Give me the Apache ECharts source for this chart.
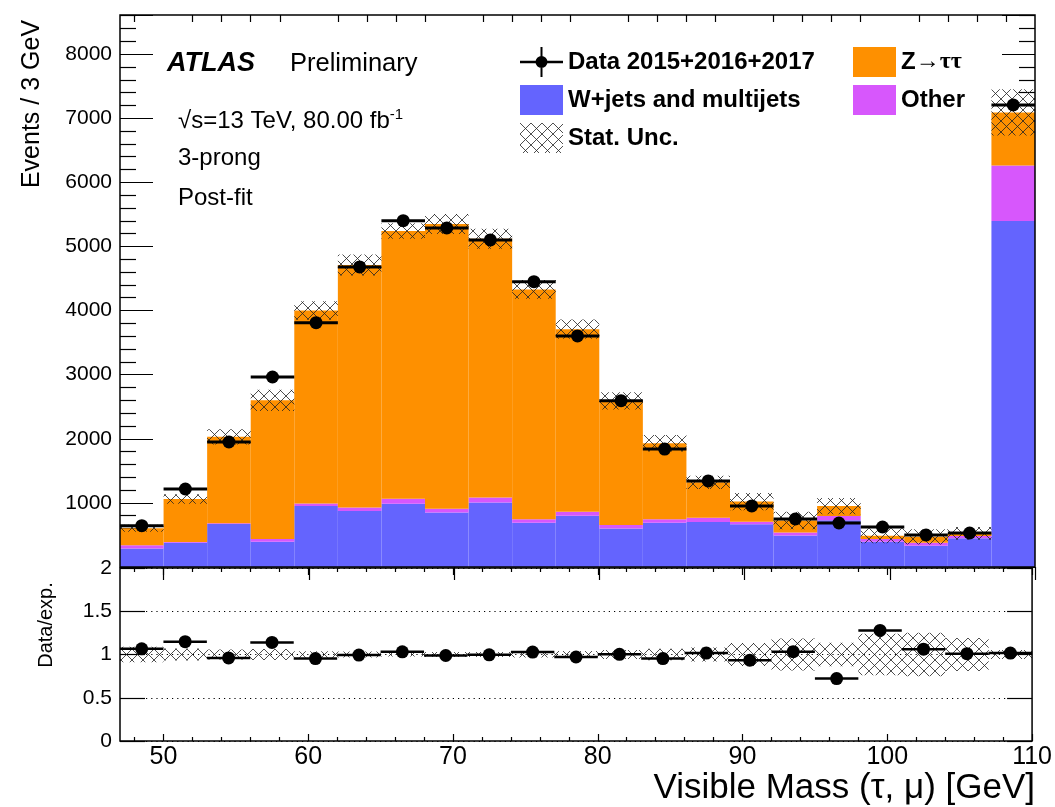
<!DOCTYPE html>
<html><head><meta charset="utf-8">
<script src="https://cdn.jsdelivr.net/npm/echarts@6/dist/echarts.min.js"></script>
<style>html,body{margin:0;padding:0;background:#fff}#c{width:1055px;height:807px}</style>
</head><body><div id="c"></div>
<script>
// ---- data ----
const binEdges = [47,50,53,56,59,62,65,68,71,74,77,80,83,86,89,92,95,98,101,104,107,110];
const dataEvents     = [645,1217,1950,2964,3811,4680,5402,5289,5101,4451,3604,2594,1840,1342,952,749,686,624,499,530,7207];
const wJetsMultijets = [290,378,671,395,950,875,985,850,1005,690,800,600,690,700,665,490,730,395,330,450,5398];
const otherBkg       = [48,12,10,40,40,55,80,60,80,55,60,55,55,70,40,50,65,40,50,35,863];
const zTauTau        = [267,670,1349,2165,3010,3780,4175,4440,4035,3585,2850,1935,1185,550,315,185,155,53,90,40,829];
const statUnc        = [55,75,120,165,145,165,120,155,155,145,150,135,130,105,135,135,128,117,118,100,360];
const xMajorTicks = [50,60,70,80,90,100,110];
const xMinorTicks = [48,52,54,56,58,62,64,66,68,72,74,76,78,82,84,86,88,92,94,96,98,102,104,106,108];
const yMainLabels = [1000,2000,3000,4000,5000,6000,7000,8000];

const C_W = '#6464fe', C_O = '#d757fc', C_Z = '#fe9000';
const FONT = 'Liberation Sans';

// hatch pattern (cross hatch)
function makeHatch(){
  const s = 11;
  const c = document.createElement('canvas'); c.width = s; c.height = s;
  const g = c.getContext('2d'); g.strokeStyle = '#222'; g.lineWidth = 0.8;
  g.beginPath(); g.moveTo(0,0); g.lineTo(s,s); g.moveTo(s,0); g.lineTo(0,s); g.stroke();
  return c;
}
const hatch = {image: makeHatch(), repeat: 'repeat'};

// ---- derived series ----
const stackW=[], stackO=[], stackZ=[], hatchMain=[], dataPts=[], ratioPts=[], ratioBand=[];
for (let i=0;i<dataEvents.length;i++){
  const lo=binEdges[i], hi=binEdges[i+1];
  const w=wJetsMultijets[i], o=otherBkg[i], z=zTauTau[i], tot=w+o+z;
  stackW.push([lo,hi,0,w]);
  stackO.push([lo,hi,w,w+o]);
  stackZ.push([lo,hi,w+o,tot]);
  hatchMain.push([lo,hi,tot-statUnc[i],tot+statUnc[i]]);
  dataPts.push([lo,hi,dataEvents[i]]);
  ratioPts.push([lo,hi,dataEvents[i]/tot]);
  ratioBand.push([lo,hi,1-statUnc[i]/tot,1+statUnc[i]/tot]);
}

function rectRender(fill){
  return function(params, api){
    const p1 = api.coord([api.value(0), api.value(3)]);
    const p2 = api.coord([api.value(1), api.value(2)]);
    return {type:'rect', shape:{x:p1[0], y:p1[1], width:p2[0]-p1[0], height:p2[1]-p1[1]},
            style:{fill: fill, stroke: null}};
  };
}
function pointRender(r, lw){
  return function(params, api){
    const lo=api.value(0), hi=api.value(1), y=api.value(2);
    const a=api.coord([lo,y]), b=api.coord([hi,y]), m=api.coord([(lo+hi)/2,y]);
    return {type:'group', children:[
      {type:'line', shape:{x1:a[0],y1:a[1],x2:b[0],y2:b[1]}, style:{stroke:'#000', lineWidth:lw}},
      {type:'circle', shape:{cx:m[0],cy:m[1],r:r}, style:{fill:'#000'}}
    ]};
  };
}

function xAx(grid, pos, ticks, len, extra){
  return Object.assign({type:'value', gridIndex:grid, position:pos, min:47, max:110,
    axisLine:{show:false}, splitLine:{show:false},
    axisTick:{show:true, inside:true, length:len, customValues:ticks, lineStyle:{color:'#000', width:1.2}},
    axisLabel:{show:false}}, extra||{});
}
const plain = function(v){ return String(v); };

const gridBase = {left:120, width:915, show:true, borderColor:'#000', borderWidth:1.5, backgroundColor:'transparent', z:10};

const dataIcon = 'path://M0,13.75L43,13.75L43,16.25L0,16.25Z M20.5,0L22.5,0L22.5,30L20.5,30Z M15.5,15A6,6 0 1 1 27.5,15A6,6 0 1 1 15.5,15Z';
const legendText = {fontFamily:FONT, fontWeight:'bold', fontSize:24, color:'#000',
  rich:{b:{fontFamily:FONT, fontWeight:'bold', fontSize:24, color:'#000'}, g:{fontFamily:'Liberation Serif', fontSize:24, color:'#000'}}};

const option = {
  animation:false,
  backgroundColor:'#fff',
  textStyle:{fontFamily:FONT, color:'#000'},
  grid:[Object.assign({top:15, height:552}, gridBase), Object.assign({top:568, height:173}, gridBase)],
  legend:[
    {left:520, top:47, orient:'vertical', padding:0, itemWidth:43, itemHeight:30, itemGap:8, textStyle:legendText, selectedMode:false,
     data:[{name:'Data 2015+2016+2017', icon:dataIcon},{name:'W+jets and multijets', icon:'rect'},{name:'Stat. Unc.', icon:'rect'}]},
    {left:853, top:47, orient:'vertical', padding:0, itemWidth:43, itemHeight:30, itemGap:8, textStyle:legendText, selectedMode:false,
     formatter:function(n){ return n==='Z→ττ' ? '{b|Z}{g|→ττ}' : n; },
     data:[{name:'Z→ττ', icon:'rect'},{name:'Other', icon:'rect'}]}
  ],
  xAxis:[
    xAx(0,'bottom',xMajorTicks,13,{axisTick:{show:false}}),
    xAx(0,'top',xMajorTicks,13),
    xAx(0,'top',xMinorTicks,7),
    xAx(1,'bottom',xMajorTicks,7,{axisLabel:{show:true, customValues:xMajorTicks, fontSize:25, margin:4, color:'#000', fontFamily:FONT, formatter:plain}}),
    xAx(1,'bottom',xMinorTicks,4),
    xAx(1,'top',xMajorTicks,7),
    xAx(1,'top',xMinorTicks,4)
  ],
  yAxis:[
    {type:'value', gridIndex:0, position:'left', min:0, max:8610, interval:1000,
     axisLine:{show:false}, splitLine:{show:false},
     axisTick:{inside:true, length:33, lineStyle:{color:'#000', width:1.2}},
     minorTick:{show:true, splitNumber:5, length:16, lineStyle:{color:'#000', width:1.2}},
     axisLabel:{customValues:yMainLabels, fontSize:21, margin:8, color:'#000', fontFamily:FONT, formatter:plain}},
    {type:'value', gridIndex:0, position:'right', min:0, max:8610, interval:1000,
     axisLine:{show:false}, splitLine:{show:false},
     axisTick:{inside:true, length:33, lineStyle:{color:'#000', width:1.2}},
     minorTick:{show:true, splitNumber:5, length:16, lineStyle:{color:'#000', width:1.2}},
     axisLabel:{show:false}},
    {type:'value', gridIndex:1, position:'left', min:0, max:2, interval:0.5,
     axisLine:{show:false},
     splitLine:{show:true, lineStyle:{color:'#000', type:[1.2,4], width:1.2}},
     axisTick:{inside:true, length:25, lineStyle:{color:'#000', width:1.2}},
     axisLabel:{fontSize:21, margin:8, color:'#000', fontFamily:FONT, formatter:plain}},
    {type:'value', gridIndex:1, position:'right', min:0, max:2, interval:0.5,
     axisLine:{show:false}, splitLine:{show:false},
     axisTick:{inside:true, length:25, lineStyle:{color:'#000', width:1.2}},
     axisLabel:{show:false}}
  ],
  series:[
    {type:'custom', name:'W+jets and multijets', xAxisIndex:0, yAxisIndex:0, clip:true, itemStyle:{color:C_W},
     encode:{x:[0,1], y:[2,3]}, renderItem:rectRender(C_W), data:stackW, z:2},
    {type:'custom', name:'Other', xAxisIndex:0, yAxisIndex:0, clip:true, itemStyle:{color:C_O},
     encode:{x:[0,1], y:[2,3]}, renderItem:rectRender(C_O), data:stackO, z:2},
    {type:'custom', name:'Z→ττ', xAxisIndex:0, yAxisIndex:0, clip:true, itemStyle:{color:C_Z},
     encode:{x:[0,1], y:[2,3]}, renderItem:rectRender(C_Z), data:stackZ, z:2},
    {type:'custom', name:'Stat. Unc.', xAxisIndex:0, yAxisIndex:0, clip:true, itemStyle:{color:hatch},
     encode:{x:[0,1], y:[2,3]}, renderItem:rectRender(hatch), data:hatchMain, z:3},
    {type:'custom', name:'Data 2015+2016+2017', xAxisIndex:0, yAxisIndex:0, clip:true, itemStyle:{color:'#000'},
     encode:{x:[0,1], y:2}, renderItem:pointRender(6.5,3), data:dataPts, z:4},
    {type:'custom', name:'ratioUnc', xAxisIndex:3, yAxisIndex:2, clip:true,
     encode:{x:[0,1], y:[2,3]}, renderItem:rectRender(hatch), data:ratioBand, z:3},
    {type:'custom', name:'ratioData', xAxisIndex:3, yAxisIndex:2, clip:true,
     encode:{x:[0,1], y:2}, renderItem:pointRender(6.5,2.5), data:ratioPts, z:4}
  ],
  graphic:[
    {type:'text', x:167, y:64, style:{text:'ATLAS', fontFamily:FONT, fontStyle:'italic', fontWeight:'bold', fontSize:27, fill:'#000', verticalAlign:'middle', textVerticalAlign:'middle'}},
    {type:'text', x:290, y:64, style:{text:'Preliminary', fontFamily:FONT, fontSize:25.5, fill:'#000', verticalAlign:'middle', textVerticalAlign:'middle'}},
    {type:'text', x:178, y:121, style:{text:'{a|√s=13 TeV, 80.00 fb}{s|-1}', fill:'#000', verticalAlign:'middle', textVerticalAlign:'middle',
      rich:{a:{fontFamily:FONT, fontSize:24, lineHeight:28}, s:{fontFamily:FONT, fontSize:15, lineHeight:15, verticalAlign:'top'}}}},
    {type:'text', x:178, y:158, style:{text:'3-prong', fontFamily:FONT, fontSize:24, fill:'#000', verticalAlign:'middle', textVerticalAlign:'middle'}},
    {type:'text', x:178, y:198, style:{text:'Post-fit', fontFamily:FONT, fontSize:24, fill:'#000', verticalAlign:'middle', textVerticalAlign:'middle'}},
    {type:'text', x:32, y:104, rotation:Math.PI/2, style:{text:'Events / 3 GeV', fontFamily:FONT, fontSize:25, fill:'#000', align:'center', textAlign:'center', verticalAlign:'middle', textVerticalAlign:'middle'}},
    {type:'text', x:46, y:625, rotation:Math.PI/2, style:{text:'Data/exp.', fontFamily:FONT, fontSize:20, fill:'#000', align:'center', textAlign:'center', verticalAlign:'middle', textVerticalAlign:'middle'}},
    {type:'text', x:1035, y:788, style:{text:'Visible Mass (τ, μ) [GeV]', fontFamily:FONT, fontSize:35, fill:'#000', align:'right', textAlign:'right', verticalAlign:'middle', textVerticalAlign:'middle'}}
  ]
};

const chart = echarts.init(document.getElementById('c'), null, {renderer:'canvas'});
chart.setOption(option);
</script></body></html>
